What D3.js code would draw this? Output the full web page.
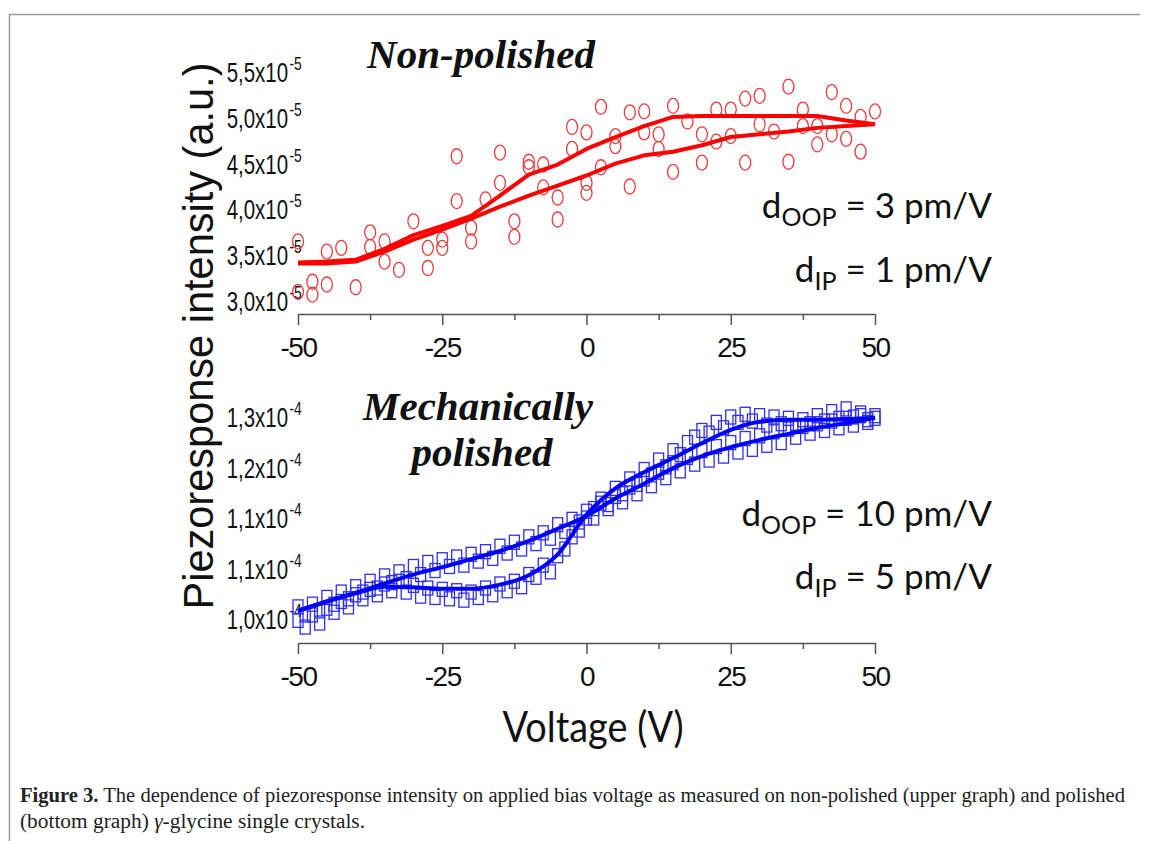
<!DOCTYPE html>
<html>
<head>
<meta charset="utf-8">
<script src="https://cdn.jsdelivr.net/npm/d3@7"></script>
<style>
  body { margin: 0; background: #fff; }
</style>
</head>
<body>
<div id="chart"></div>
<script>
// ---- Data ----
// Upper graph (non-polished), intensity in units of 1e-5
const topTickValues = [3.0, 3.5, 4.0, 4.5, 5.0, 5.5];
const topTickLabels = ['3,0', '3,5', '4,0', '4,5', '5,0', '5,5'];

const circV = [-50, -50, -47.5, -47.5, -45, -45, -42.5, -40, -37.5, -37.5, -35, -35, -32.5, -30,
  -27.5, -27.5, -25, -25, -22.5, -22.5, -20, -20, -17.5, -15, -15, -12.5, -12.5, -10, -10,
  -7.5, -7.5, -5, -5, -2.5, -2.5, 0, 0, 0, 2.5, 2.5, 5, 5, 7.5, 7.5, 10, 10, 12.5, 12.5,
  15, 15, 17.5, 20, 20, 22.5, 22.5, 25, 25, 27.5, 27.5, 30, 30, 32.5, 35, 35, 37.5, 37.5,
  40, 40, 42.5, 42.5, 45, 45, 47.5, 47.5, 50];
const circI = [3.65, 3.10, 3.21, 3.07, 3.54, 3.18, 3.58, 3.15, 3.75, 3.59, 3.65, 3.43, 3.34, 3.87,
  3.58, 3.36, 3.67, 3.58, 4.58, 4.09, 3.80, 3.65, 4.11, 4.62, 4.29, 3.87, 3.70, 4.52, 4.46,
  4.49, 4.24, 4.13, 3.89, 4.90, 4.66, 4.84, 4.29, 4.18, 5.12, 4.46, 4.80, 4.69, 5.06, 4.25,
  5.07, 4.84, 4.82, 4.66, 5.13, 4.41, 4.96, 4.82, 4.51, 5.09, 4.74, 5.09, 4.80, 5.21, 4.51,
  5.24, 4.93, 4.85, 5.34, 4.52, 5.09, 4.91, 4.91, 4.71, 5.28, 4.82, 5.13, 4.77, 5.01, 4.63, 5.07];

const lineV = [-50, -45, -40, -35, -30, -25, -20, -15, -10, -5, 0, 5, 10, 15, 20, 25, 30, 35, 40, 45, 50];
const topLineUpper = [3.42, 3.43, 3.45, 3.57, 3.72, 3.82, 3.93, 4.15, 4.38, 4.49, 4.66, 4.79, 4.91,
  5.01, 5.02, 5.02, 5.02, 5.02, 5.02, 4.97, 4.93];
const topLineLower = [3.41, 3.41, 3.43, 3.54, 3.67, 3.78, 3.90, 4.03, 4.15, 4.26, 4.37, 4.50, 4.59,
  4.63, 4.70, 4.79, 4.82, 4.85, 4.89, 4.91, 4.93];

// Lower graph (mechanically polished), intensity in units of 1e-4
const botTickValues = [1.0, 1.075, 1.15, 1.225, 1.3];
const botTickLabels = ['1,0', '1,1', '1,1', '1,2', '1,3'];

const sqV = [-50, -48.75, -47.5, -46.25, -45, -43.75, -42.5, -41.25, -40, -38.75, -37.5, -36.25,
  -35, -33.75, -32.5, -31.25, -30, -28.75, -27.5, -26.25, -25, -23.75, -22.5, -21.25, -20,
  -18.75, -17.5, -16.25, -15, -13.75, -12.5, -11.25, -10, -8.75, -7.5, -6.25, -5, -3.75,
  -2.5, -1.25, 0, 1.25, 2.5, 3.75, 5, 6.25, 7.5, 8.75, 10, 11.25, 12.5, 13.75, 15, 16.25,
  17.5, 18.75, 20, 21.25, 22.5, 23.75, 25, 26.25, 27.5, 28.75, 30, 31.25, 32.5, 33.75, 35,
  36.25, 37.5, 38.75, 40, 41.25, 42.5, 43.75, 45, 46.25, 47.5, 48.75, 50];
// forward sweep squares
const sqA = [0.998, 0.988, 1.006, 0.994, 1.016, 1.010, 1.026, 1.018, 1.036, 1.030,
  1.044, 1.036, 1.052, 1.042, 1.056, 1.040, 1.050, 1.034, 1.046, 1.032,
  1.044, 1.030, 1.042, 1.028, 1.040, 1.032, 1.046, 1.036, 1.052, 1.042,
  1.056, 1.048, 1.066, 1.062, 1.080, 1.070, 1.094, 1.104, 1.122, 1.132,
  1.150, 1.164, 1.178, 1.170, 1.194, 1.186, 1.208, 1.200, 1.222, 1.214,
  1.236, 1.226, 1.250, 1.244, 1.262, 1.270, 1.280, 1.276, 1.292, 1.284,
  1.300, 1.292, 1.304, 1.294, 1.302, 1.288, 1.300, 1.290, 1.298, 1.286,
  1.296, 1.290, 1.302, 1.294, 1.308, 1.298, 1.312, 1.300, 1.306, 1.296, 1.302];
// reverse sweep squares
const sqB = [1.018, 1.006, 1.022, 1.012, 1.032, 1.022, 1.040, 1.030, 1.048, 1.040,
  1.056, 1.046, 1.064, 1.054, 1.070, 1.060, 1.078, 1.066, 1.084, 1.072,
  1.088, 1.078, 1.092, 1.080, 1.096, 1.086, 1.100, 1.090, 1.108, 1.098,
  1.114, 1.104, 1.122, 1.112, 1.128, 1.120, 1.140, 1.130, 1.148, 1.144,
  1.160, 1.150, 1.172, 1.164, 1.182, 1.174, 1.196, 1.186, 1.208, 1.198,
  1.218, 1.210, 1.232, 1.220, 1.240, 1.230, 1.250, 1.236, 1.256, 1.242,
  1.262, 1.248, 1.268, 1.252, 1.272, 1.258, 1.278, 1.262, 1.282, 1.270,
  1.286, 1.276, 1.290, 1.280, 1.294, 1.284, 1.298, 1.288, 1.302, 1.292, 1.298];

const botLineA = [1.012, 1.026, 1.038, 1.048, 1.047, 1.045, 1.045, 1.051, 1.065, 1.096, 1.155,
  1.194, 1.218, 1.239, 1.261, 1.281, 1.293, 1.296, 1.296, 1.297, 1.299];
const botLineB = [1.012, 1.026, 1.039, 1.053, 1.066, 1.077, 1.089, 1.101, 1.116, 1.134, 1.153,
  1.179, 1.201, 1.224, 1.242, 1.255, 1.266, 1.275, 1.284, 1.291, 1.299];

const xMajor = [-50, -25, 0, 25, 50];
const xMinor = [-37.5, -12.5, 12.5, 37.5];

// ---- Layout ----
const W = 1153, H = 841;
const SANS = '"Liberation Sans", Arial, sans-serif';
const CALIBRI = 'Lato, "Open Sans", sans-serif';
const SERIF = '"Liberation Serif", "Times New Roman", serif';

const svg = d3.select('#chart').append('svg')
  .attr('width', W)
  .attr('height', H)
  .style('display', 'block');

// figure frame (left and top rule)
svg.append('path')
  .attr('d', 'M9.5,841 L9.5,14.5 L1140,14.5')
  .attr('fill', 'none')
  .attr('stroke', '#9a9a9a')
  .attr('stroke-width', 1.5);

const x = d3.scaleLinear().domain([-50, 50]).range([298, 875]);
const yTop = d3.scaleLinear().domain([3.0, 5.5]).range([301, 72]);
const yBot = d3.scaleLinear().domain([1.0, 1.3]).range([619, 417]);

/**
 * Draw a bottom axis with major labelled ticks and short minor ticks
 */
function drawXAxis(yPos) {
  const g = svg.append('g').attr('transform', `translate(0,${yPos})`);
  g.call(d3.axisBottom(x)
    .tickValues(xMajor)
    .tickSize(11)
    .tickSizeOuter(0)
    .tickPadding(12)
    .tickFormat(d => String(d)));
  g.append('g').call(d3.axisBottom(x)
    .tickValues(xMinor)
    .tickSize(6)
    .tickSizeOuter(0)
    .tickFormat(''))
    .select('.domain').remove();
  g.selectAll('path, line')
    .attr('stroke', '#555')
    .attr('stroke-width', 1.5);
  g.selectAll('text')
    .attr('fill', '#111')
    .style('font-family', SANS)
    .style('font-size', '28px')
    .style('letter-spacing', '-1.5px');
}

/**
 * Y tick labels of the form "5,5x10^-5" without axis line
 */
function drawYLabels(scale, values, labels, exp) {
  const g = svg.append('g');
  values.forEach((v, i) => {
    const t = g.append('g')
      .attr('transform', `translate(288,${scale(v)}) scale(0.73,1)`);
    t.append('text')
      .attr('text-anchor', 'end')
      .attr('y', 10)
      .attr('fill', '#111')
      .style('font-family', SANS)
      .style('font-size', '28px')
      .text(labels[i] + 'x10');
    t.append('text')
      .attr('x', 2)
      .attr('y', -2)
      .attr('fill', '#111')
      .style('font-family', SANS)
      .style('font-size', '19px')
      .text(exp);
  });
}

// ---- Upper graph ----
drawYLabels(yTop, topTickValues, topTickLabels, '-5');

svg.append('g')
  .selectAll('ellipse')
  .data(circV.map((v, i) => ({ v, y: circI[i] })))
  .join('ellipse')
  .attr('cx', d => x(d.v))
  .attr('cy', d => yTop(d.y))
  .attr('rx', 5.5)
  .attr('ry', 7.5)
  .attr('fill', 'none')
  .attr('stroke', '#e83c3c')
  .attr('stroke-width', 1.3);

const lineTop = d3.line()
  .x((d, i) => x(lineV[i]))
  .y(d => yTop(d));

[topLineUpper, topLineLower].forEach(series => {
  svg.append('path')
    .attr('d', lineTop(series))
    .attr('fill', 'none')
    .attr('stroke', '#ff0000')
    .attr('stroke-width', 4)
    .attr('stroke-linejoin', 'round');
});

drawXAxis(314);

// ---- Lower graph ----
drawYLabels(yBot, botTickValues, botTickLabels, '-4');

const squares = sqV.map((v, i) => ({ v, y: sqA[i] }))
  .concat(sqV.map((v, i) => ({ v, y: sqB[i] })));

svg.append('g')
  .selectAll('rect')
  .data(squares)
  .join('rect')
  .attr('x', d => x(d.v) - 5)
  .attr('y', d => yBot(d.y) - 7)
  .attr('width', 10)
  .attr('height', 14)
  .attr('fill', 'none')
  .attr('stroke', '#3030ee')
  .attr('stroke-width', 1.3);

const lineBot = d3.line()
  .x((d, i) => x(lineV[i]))
  .y(d => yBot(d))
  .curve(d3.curveMonotoneX);

[botLineA, botLineB].forEach(series => {
  svg.append('path')
    .attr('d', lineBot(series))
    .attr('fill', 'none')
    .attr('stroke', '#0000ff')
    .attr('stroke-width', 4);
});

drawXAxis(643);

// ---- Titles and annotations ----
function italicTitle(txt, xPos, yPos) {
  svg.append('text')
    .attr('x', xPos)
    .attr('y', yPos)
    .attr('text-anchor', 'middle')
    .style('font-family', SERIF)
    .style('font-size', '41px')
    .style('font-weight', 'bold')
    .style('font-style', 'italic')
    .attr('fill', '#111')
    .text(txt);
}

italicTitle('Non-polished', 481, 68);
italicTitle('Mechanically', 478, 420);
italicTitle('polished', 482, 466);

/**
 * "d_sub = value" annotation, right aligned
 */
function annotate(sub, rest, baseline) {
  const t = svg.append('text')
    .attr('x', 992)
    .attr('y', baseline)
    .attr('text-anchor', 'end')
    .attr('fill', '#111')
    .style('font-family', CALIBRI)
    .style('font-size', '35px');
  t.append('tspan').text('d');
  t.append('tspan')
    .attr('dy', 8)
    .style('font-size', '25px')
    .text(sub);
  t.append('tspan')
    .attr('dy', -8)
    .text(' = ' + rest);
}

annotate('OOP', '3 pm/V', 218);
annotate('IP', '1 pm/V', 282);
annotate('OOP', '10 pm/V', 526);
annotate('IP', '5 pm/V', 589);

// axis titles
svg.append('text')
  .attr('transform', 'translate(213,336) rotate(-90)')
  .attr('text-anchor', 'middle')
  .attr('textLength', 547)
  .attr('lengthAdjust', 'spacingAndGlyphs')
  .attr('fill', '#111')
  .style('font-family', SANS)
  .style('font-size', '43px')
  .text('Piezoresponse intensity (a.u.)');

svg.append('text')
  .attr('x', 593)
  .attr('y', 742)
  .attr('text-anchor', 'middle')
  .attr('textLength', 181)
  .attr('lengthAdjust', 'spacingAndGlyphs')
  .attr('fill', '#111')
  .style('font-family', CALIBRI)
  .style('font-size', '42px')
  .text('Voltage (V)');

// ---- Caption ----
const cap1 = svg.append('text')
  .attr('x', 20)
  .attr('y', 802)
  .attr('textLength', 1105)
  .attr('lengthAdjust', 'spacingAndGlyphs')
  .attr('fill', '#222')
  .style('font-family', SERIF)
  .style('font-size', '20.5px');
cap1.append('tspan').style('font-weight', 'bold').text('Figure 3.');
cap1.append('tspan').text(' The dependence of piezoresponse intensity on applied bias voltage as measured on non-polished (upper graph) and polished');

const cap2 = svg.append('text')
  .attr('x', 20)
  .attr('y', 828)
  .attr('textLength', 345)
  .attr('lengthAdjust', 'spacingAndGlyphs')
  .attr('fill', '#222')
  .style('font-family', SERIF)
  .style('font-size', '20.5px');
cap2.append('tspan').text('(bottom graph) ');
cap2.append('tspan').style('font-style', 'italic').text('γ');
cap2.append('tspan').text('-glycine single crystals.');
</script>
</body>
</html>
